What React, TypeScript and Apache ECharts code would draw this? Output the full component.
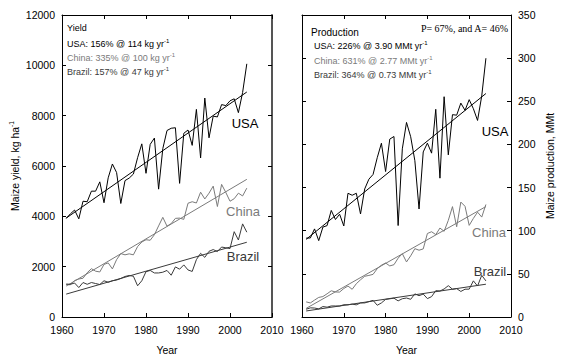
import React, { useEffect, useRef } from "react";
import * as echarts from "echarts";

const years = [
  1961, 1962, 1963, 1964, 1965, 1966, 1967, 1968, 1969, 1970,
  1971, 1972, 1973, 1974, 1975, 1976, 1977, 1978, 1979, 1980,
  1981, 1982, 1983, 1984, 1985, 1986, 1987, 1988, 1989, 1990,
  1991, 1992, 1993, 1994, 1995, 1996, 1997, 1998, 1999, 2000,
  2001, 2002, 2003, 2004,
];

const usaYield = [
  3920, 4100, 4250, 3900, 4600, 4580, 5000, 5000, 5370, 4540,
  5530, 6080, 5740, 4510, 5420, 5520, 5680, 6330, 6880, 5710,
  6860, 7110, 5080, 6690, 7410, 7500, 7520, 5310, 7300, 7430,
  6820, 8250, 6320, 8700, 7120, 7980, 7950, 8440, 8400, 8590,
  8670, 8120, 8920, 10060,
];
const chinaYield = [
  1290, 1280, 1450, 1510, 1540, 1760, 1920, 1820, 1790, 2090,
  2150, 1910, 2280, 2520, 2470, 2510, 2470, 2800, 2980, 3070,
  3050, 3270, 3620, 3960, 3610, 3710, 3920, 3930, 3880, 4520,
  4580, 4530, 4960, 4690, 4920, 5200, 4390, 5270, 4950, 4600,
  4700, 4920, 4810, 5120,
];
const brazilYield = [
  1310, 1300, 1350, 1170, 1370, 1300, 1370, 1330, 1290, 1440,
  1380, 1440, 1470, 1530, 1610, 1650, 1620, 1240, 1440, 1800,
  1850, 1750, 1750, 1780, 1850, 1660, 1990, 1900, 2070, 1870,
  1810, 2280, 2530, 2370, 2610, 2680, 2600, 2780, 2750, 2720,
  3390, 3060, 3700, 3370,
];

const usaProd = [
  91.4, 91.6, 102.1, 88.5, 104.2, 105.9, 123.5, 113.0, 119.1, 105.5,
  143.4, 141.1, 143.4, 119.4, 148.4, 159.7, 165.2, 184.6, 201.4, 168.6,
  206.2, 209.2, 106.0, 194.9, 225.5, 208.9, 181.1, 125.2, 191.3, 201.5,
  189.9, 240.7, 160.9, 255.3, 187.9, 234.5, 233.9, 247.9, 239.5, 251.9,
  241.4, 227.8, 256.2, 299.9,
];
const chinaProd = [
  17.5, 16.3, 19.6, 22.7, 23.7, 26.9, 30.4, 29.0, 28.9, 33.0,
  35.9, 32.1, 38.6, 43.1, 47.2, 48.2, 49.4, 56.0, 60.0, 62.6,
  59.2, 60.6, 68.2, 73.4, 63.8, 70.9, 79.2, 77.4, 78.9, 96.8,
  98.8, 95.5, 103.1, 99.3, 112.0, 127.9, 104.6, 133.2, 128.3, 106.2,
  114.3, 121.5, 115.8, 130.4,
];
const brazilProd = [
  9.0, 10.6, 10.4, 9.4, 12.1, 11.4, 12.8, 12.8, 12.7, 14.2,
  14.1, 14.9, 14.1, 16.3, 16.3, 17.8, 19.3, 13.6, 16.3, 20.4,
  21.1, 21.8, 18.7, 21.2, 22.0, 20.5, 26.8, 24.7, 26.6, 21.3,
  23.6, 30.5, 30.1, 32.5, 36.3, 32.2, 32.9, 29.6, 32.2, 32.3,
  41.9, 35.9, 48.3, 41.8,
];

const trendYears = [1961, 2004];
const usaYieldTrend = [3930, 8940];
const chinaYieldTrend = [1230, 5470];
const brazilYieldTrend = [910, 2970];
const usaProdTrend = [90, 259];
const chinaProdTrend = [10, 128];
const brazilProdTrend = [7, 38];

const xTicks = { min: 1960, max: 2010, interval: 10 };
const yieldTicks = { min: 0, max: 12000, interval: 2000 };
const prodTicks = { min: 0, max: 350, interval: 50 };

const C_USA = "#000000";
const C_CHINA = "#7a7a7a";
const C_BRAZIL = "#3a3a3a";
const FONT = "'Liberation Sans', Arial, Helvetica, sans-serif";

const pair = (xs: number[], ys: number[]) => xs.map((x, i) => [x, ys[i]]);

export default function App() {
  const ref = useRef<HTMLDivElement>(null);
  useEffect(() => {
    if (!ref.current) return;
    const chart = echarts.init(ref.current, null, { renderer: "svg" });
    const fmt = (v: number) => String(v);
    const labelStyle = { color: "#000", fontFamily: FONT, fontSize: 10.5 };
    const tick = { show: true, inside: true, length: 4, lineStyle: { color: "#000" } };
    const line = (color: string, width = 1) => ({ show: true, onZero: false, lineStyle: { color, width } });
    const mainX = (gridIndex: number) => ({
      type: "value", gridIndex, position: "bottom", ...xTicks,
      axisLine: line("#000"), axisTick: tick, splitLine: { show: false },
      axisLabel: { ...labelStyle, margin: 7, formatter: fmt },
      name: "Year", nameLocation: "middle", nameGap: 27,
      nameTextStyle: { ...labelStyle },
    });
    const mirrorX = (gridIndex: number) => ({
      type: "value", gridIndex, position: "top", ...xTicks,
      axisLine: line("#000"), axisTick: tick, splitLine: { show: false },
      axisLabel: { show: false },
    });
    const ser = (name: string, xi: number, yi: number, data: any, color: string) => ({
      name, type: "line", xAxisIndex: xi, yAxisIndex: yi, data,
      showSymbol: false, symbol: "none", silent: true,
      lineStyle: { color, width: 1 }, itemStyle: { color },
    });
    const txt = (x: number, y: number, text: string, fill: string, size: number, extra: any = {}) => ({
      type: "text", x, y, silent: true,
      style: {
        text, fill, fontFamily: FONT, fontSize: size,
        verticalAlign: "middle", align: "left",
        rich: {
          sup: { fontSize: 6, fontFamily: FONT, fill, padding: [0, 0, 6, 0] },
        },
        ...extra,
      },
    });
    chart.setOption({
      animation: false,
      grid: [
        { left: 62, top: 15, width: 210, height: 302 },
        { left: 302, top: 15, width: 209, height: 302 },
      ],
      xAxis: [mainX(0), mirrorX(0), mainX(1), mirrorX(1)],
      yAxis: [
        {
          type: "value", gridIndex: 0, position: "left", ...yieldTicks,
          axisLine: line("#000"), axisTick: tick, splitLine: { show: false },
          axisLabel: { ...labelStyle, margin: 7, formatter: fmt },
          name: "Maize yield, kg ha{s|-1}", nameLocation: "middle", nameGap: 40,
          nameTextStyle: {
            ...labelStyle,
            rich: { s: { fontSize: 6.5, fontFamily: FONT, color: "#000", padding: [0, 0, 7, 0] } },
          },
        },
        {
          type: "value", gridIndex: 0, position: "right", ...yieldTicks,
          axisLine: line("#555", 2), axisTick: tick, splitLine: { show: false },
          axisLabel: { show: false },
        },
        {
          type: "value", gridIndex: 1, position: "right", ...prodTicks,
          axisLine: line("#000"), axisTick: tick, splitLine: { show: false },
          axisLabel: { ...labelStyle, margin: 7, formatter: fmt },
          name: "Maize production, MMt", nameLocation: "middle", nameGap: 33,
          nameRotate: 90,
          nameTextStyle: { ...labelStyle },
        },
        {
          type: "value", gridIndex: 1, position: "left", ...prodTicks,
          axisLine: line("#000"), axisTick: tick, splitLine: { show: false },
          axisLabel: { show: false },
        },
      ],
      series: [
        ser("USA yield", 0, 0, pair(years, usaYield), C_USA),
        ser("USA yield trend", 0, 0, pair(trendYears, usaYieldTrend), C_USA),
        ser("China yield", 0, 0, pair(years, chinaYield), C_CHINA),
        ser("China yield trend", 0, 0, pair(trendYears, chinaYieldTrend), C_CHINA),
        ser("Brazil yield", 0, 0, pair(years, brazilYield), C_BRAZIL),
        ser("Brazil yield trend", 0, 0, pair(trendYears, brazilYieldTrend), C_BRAZIL),
        ser("USA production", 2, 2, pair(years, usaProd), C_USA),
        ser("USA production trend", 2, 2, pair(trendYears, usaProdTrend), C_USA),
        ser("China production", 2, 2, pair(years, chinaProd), C_CHINA),
        ser("China production trend", 2, 2, pair(trendYears, chinaProdTrend), C_CHINA),
        ser("Brazil production", 2, 2, pair(years, brazilProd), C_BRAZIL),
        ser("Brazil production trend", 2, 2, pair(trendYears, brazilProdTrend), C_BRAZIL),
      ],
      graphic: [
        txt(67, 28, "Yield", "#000", 9),
        txt(67, 44, "USA: 156% @ 114 kg yr{sup|-1}", "#000", 9),
        txt(67, 58, "China: 335% @ 100 kg yr{sup|-1}", C_CHINA, 9),
        txt(67, 72, "Brazil: 157% @ 47 kg yr{sup|-1}", C_BRAZIL, 9),
        txt(311, 32, "Production", "#000", 10),
        txt(314, 46, "USA: 226% @ 3.90 MMt yr{sup|-1}", "#000", 9),
        txt(314, 61, "China: 631% @ 2.77 MMt yr{sup|-1}", C_CHINA, 9),
        txt(314, 75, "Brazil: 364% @ 0.73 MMt yr{sup|-1}", C_BRAZIL, 9),
        txt(508, 28, "P= 67%, and A= 46%", "#000", 10, {
          align: "right", fontFamily: "'Liberation Serif', 'Times New Roman', serif",
        }),
        txt(245, 123, "USA", C_USA, 13, { align: "center" }),
        txt(243, 211, "China", C_CHINA, 13, { align: "center" }),
        txt(243, 256, "Brazil", C_BRAZIL, 13, { align: "center" }),
        txt(495, 131, "USA", C_USA, 13, { align: "center" }),
        txt(489, 232, "China", C_CHINA, 13, { align: "center" }),
        txt(490, 271, "Brazil", C_BRAZIL, 13, { align: "center" }),
      ],
    });
    return () => chart.dispose();
  }, []);
  return <div ref={ref} style={{ width: 563, height: 360, position: "absolute", left: 0, top: 0 }} />;
}
